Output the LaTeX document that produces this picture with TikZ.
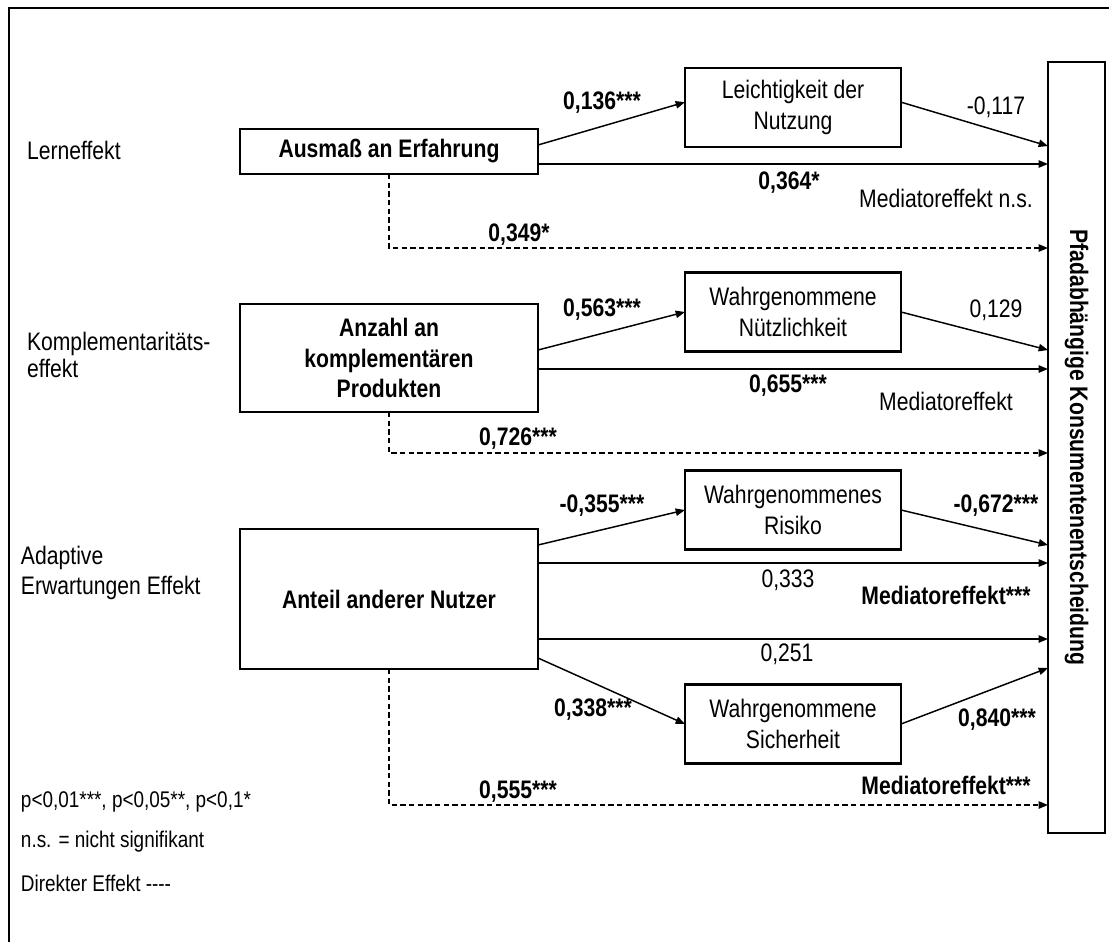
\documentclass[tikz,border=0pt]{standalone}
\usepackage{fontspec}
\setmainfont{Liberation Sans}[FakeStretch=0.835,Ligatures=TeXOff]
\usetikzlibrary{arrows.meta}

\begin{document}
\begin{tikzpicture}[x=0.75pt,y=-0.75pt,>={Triangle[length=7pt,width=5.5pt]},
  font=\fontsize{19}{23}\selectfont,
  every node/.style={inner sep=0pt,outer sep=0pt},
  ivbox/.style={draw,line width=1.1pt,minimum width=223.5pt,align=center,font=\fontsize{19}{23}\selectfont\bfseries},
  medbox/.style={draw,line width=1.9pt,minimum width=162pt,minimum height=59.25pt,align=center},
  link/.style={->,line width=1.1pt},
  direct/.style={link,dash pattern=on 4pt off 2.5pt},
  coef/.style={font=\fontsize{19}{23}\selectfont\bfseries},
  note/.style={anchor=west,font=\fontsize{17}{20}\selectfont}]
\useasboundingbox (0,0) rectangle (1109,942);
\draw[line width=1.5pt] (9,942) -- (9,8) -- (1109,8);

% Effekte links
\node[anchor=west] (lern) at (27,150) {Lerneffekt};
\node[anchor=west,align=left,font=\fontsize{19}{20}\selectfont] (kompl) at (27,355) {Komplementaritäts-\\effekt};
\node[anchor=west,align=left] (adapt) at (21,573) {Adaptive\\Erwartungen Effekt};

% unabhaengige Variablen
\node[ivbox,minimum height=33.75pt] (aus) at (389,151.5) {Ausmaß an Erfahrung};
\node[ivbox,minimum height=81pt] (anz) at (389,358) {Anzahl an\\komplementären\\Produkten};
\node[ivbox,minimum height=105pt] (ant) at (389,599) {Anteil anderer Nutzer};

% Mediatoren
\node[medbox] (leicht) at (793,107.5) {Leichtigkeit der\\Nutzung};
\node[medbox] (nuetz) at (793,312) {Wahrgenommene\\Nützlichkeit};
\node[medbox] (risiko) at (793,510) {Wahrgenommenes\\Risiko};
\node[medbox] (sicher) at (793,724) {Wahrgenommene\\Sicherheit};

% abhaengige Variable
\node[draw,line width=1.4pt,minimum width=42.75pt,minimum height=578.25pt] (dec) at (1076.5,447.5) {};
\node[coef,rotate=-90] (dectext) at (dec.center) {Pfadabhängige Konsumentenentscheidung};

% Lerneffekt
\draw[link] (aus.east |- 0,145) -- ([yshift=4pt]leicht.west);
\draw[link] (aus.east |- 0,164) -- (dec.west |- 0,164);
\draw[link] ([yshift=4pt]leicht.east) -- (dec.west |- 0,146);
\draw[direct] (aus.south) |- (dec.west |- 0,248);

% Komplementaritaetseffekt
\draw[link] (anz.east |- 0,350) -- (nuetz.west);
\draw[link] (anz.east |- 0,369) -- (dec.west |- 0,369);
\draw[link] (nuetz.east) -- (dec.west |- 0,350);
\draw[direct] (anz.south) |- (dec.west |- 0,453);

% adaptive Erwartungen
\draw[link] (ant.east |- 0,545) -- (risiko.west);
\draw[link] (ant.east |- 0,563) -- (dec.west |- 0,563);
\draw[link] (risiko.east) -- (dec.west |- 0,545);
\draw[link] (ant.east |- 0,639) -- (dec.west |- 0,639);
\draw[link] (ant.east |- 0,658) -- (sicher.west);
\draw[link] (sicher.east) -- (dec.west |- 0,668);
\draw[direct] (ant.south) |- (dec.west |- 0,805);

% Koeffizienten
\node[coef] (c1) at (602,103) {0,136***};
\node (c2) at (996,107) {-0,117};
\node[coef] (c3) at (789,183) {0,364*};
\node (m1) at (946,198) {Mediatoreffekt n.s.};
\node[coef] (c4) at (519,235) {0,349*};
\node[coef] (c5) at (602,310) {0,563***};
\node (c6) at (996,310) {0,129};
\node[coef] (c7) at (788,386) {0,655***};
\node (m2) at (946,401) {Mediatoreffekt};
\node[coef] (c8) at (518,439) {0,726***};
\node[coef] (c9) at (602,506) {-0,355***};
\node[coef] (c10) at (996,506) {-0,672***};
\node (c11) at (788,580) {0,333};
\node[coef] (m3) at (946,595) {Mediatoreffekt***};
\node (c12) at (787,654) {0,251};
\node[coef] (c13) at (593,710) {0,338***};
\node[coef] (c14) at (997,720) {0,840***};
\node[coef] (m4) at (946,785) {Mediatoreffekt***};
\node[coef] (c15) at (518,792) {0,555***};

% Legende
\node[note] (n1) at (21,802) {p<0,01***, p<0,05**, p<0,1*};
\node[note] (n2) at (21,842) {n.s. = nicht signifikant};
\node[note] (n3) at (21,883) {Direkter Effekt ----};
\end{tikzpicture}
\end{document}
